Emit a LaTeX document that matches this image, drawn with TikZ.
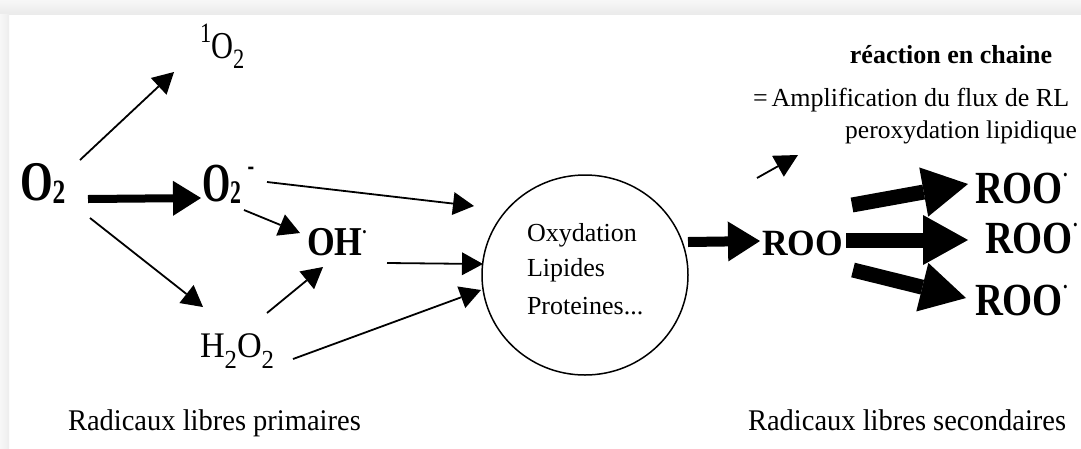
\documentclass[tikz,border=0pt]{standalone}
\usepackage{fontspec}
\setmainfont{Liberation Serif}
\usepackage{graphicx}
\usetikzlibrary{arrows.meta,shapes.geometric}
\newcommand\fsz[1]{\fontsize{#1}{#1}\selectfont}
\tikzset{
  lbl/.style={inner sep=0pt, outer sep=0pt, anchor=base west},
  thinarr/.style={line width=1.8pt, -{Triangle[length=21pt,width=23pt,line width=0pt]}},
  smallarr/.style={line width=1.8pt, -{Triangle[length=23pt,width=24pt,line width=0pt]}},
  fatarr/.style={line width=8pt, -{Triangle[length=28pt,width=35pt,line width=0pt]}},
  midarr/.style={line width=10pt, -{Triangle[length=32pt,width=40pt,line width=0pt]}},
  bigarr/.style={line width=15pt, -{Triangle[length=45pt,width=50pt,line width=0pt]}},
  disc/.style={draw, line width=1.5pt, ellipse, minimum width=206pt, minimum height=200pt, inner sep=0pt}
}
\begin{document}
\begin{tikzpicture}[x=1pt,y=-1pt]
\useasboundingbox (0,0) rectangle (1081,448);
\fill[white] (0,0) rectangle (1081,448);
\shade[top color=gray!6, bottom color=gray!16] (0,0) rectangle (1081,14);
\shade[left color=gray!6, right color=gray!14] (0,14) rectangle (9,448);

% species
\node[lbl] (o2) at (20,200) {\scalebox{0.75}[1]{\fsz{56}\bfseries O\raisebox{-3pt}{\fsz{34}2}}};
\node[lbl] (so2) at (200,58) {\scalebox{0.8}[1]{\fsz{38}\raisebox{16pt}{\fsz{28}1}O\raisebox{-10pt}{\fsz{28}2}}};
\node[lbl] (o2m) at (202,201) {\scalebox{0.66}[1]{\fsz{55}\bfseries O\raisebox{-2pt}{\fsz{33}2}\kern10pt\raisebox{26pt}{\fsz{30}-}}};
\node[lbl] (oh) at (307,255) {\scalebox{0.87}[1]{\fsz{41}\bfseries OH\raisebox{22pt}{\fsz{20}.}}};
\node[lbl] (h2o2) at (200,357) {\scalebox{0.95}[1]{\fsz{36}H\raisebox{-11pt}{\fsz{26}2}O\raisebox{-11pt}{\fsz{26}2}}};

% oxidation circle
\node[disc] (circ) at (585,275) {};
\node[lbl] (t1) at (527,241) {\fsz{26}Oxydation};
\node[lbl] (t2) at (527,276) {\fsz{26}Lipides};
\node[lbl] (t3) at (527,314) {\fsz{26}Proteines...};

% secondary radicals
\node[lbl] (roo) at (762,255) {\scalebox{0.96}[1]{\fsz{37}\bfseries ROO}};
\node[lbl] (roo1) at (975,203) {\scalebox{0.84}[1]{\fsz{46}\bfseries ROO\raisebox{27pt}{\fsz{22}.}}};
\node[lbl] (roo2) at (985,253) {\scalebox{0.84}[1]{\fsz{46}\bfseries ROO\raisebox{27pt}{\fsz{22}.}}};
\node[lbl] (roo3) at (975,315) {\scalebox{0.84}[1]{\fsz{46}\bfseries ROO\raisebox{27pt}{\fsz{22}.}}};

% annotations
\node[inner sep=0pt, anchor=base] (chain) at (951,63) {\fsz{26}\bfseries réaction en chaine};
\node[lbl] (ampl) at (753,106) {\fsz{26}=\kern4pt Amplification du flux de RL};
\node[inner sep=0pt, anchor=base east] (perox) at (1077,138) {\fsz{25.5}peroxydation lipidique};
\node[lbl] (prim) at (68,430) {\scalebox{0.95}[1]{\fsz{30}Radicaux libres primaires}};
\node[lbl] (sec) at (748,430) {\scalebox{0.95}[1]{\fsz{30}Radicaux libres secondaires}};

% connector end points
\coordinate (a1s) at (80,160);   \coordinate (a1e) at (174,72);
\coordinate (a2s) at (88,199);   \coordinate (a2e) at (201,198);
\coordinate (a3s) at (90,218);   \coordinate (a3e) at (203,307);
\coordinate (a4s) at (244,210);  \coordinate (a4e) at (300,233);
\coordinate (a5s) at (267,313);  \coordinate (a5e) at (323,267);
\coordinate (a6s) at (267,182);  \coordinate (a6e) at (474,206);
\coordinate (a7s) at (387,263);  \coordinate (a7e) at (483,264);
\coordinate (a8s) at (293,359);  \coordinate (a8e) at (481,290);
\coordinate (a9s) at (688,242);  \coordinate (a9e) at (760,241);
\coordinate (b1s) at (852,205);  \coordinate (b1e) at (968,184);
\coordinate (b2s) at (846,240);  \coordinate (b2e) at (968,240);
\coordinate (b3s) at (853,270);  \coordinate (b3e) at (966,298);
\coordinate (c1s) at (757,178);  \coordinate (c1e) at (798,155);

\draw[thinarr] (a1s) -- (a1e);
\draw[fatarr] (a2s) -- (a2e);
\draw[thinarr] (a3s) -- (a3e);
\draw[thinarr] (a4s) -- (a4e);
\draw[thinarr] (a5s) -- (a5e);
\draw[thinarr] (a6s) -- (a6e);
\draw[thinarr] (a7s) -- (a7e);
\draw[thinarr] (a8s) -- (a8e);
\draw[midarr] (a9s) -- (a9e);
\draw[bigarr] (b1s) -- (b1e);
\draw[bigarr] (b2s) -- (b2e);
\draw[bigarr] (b3s) -- (b3e);
\draw[smallarr] (c1s) -- (c1e);
\end{tikzpicture}
\end{document}
